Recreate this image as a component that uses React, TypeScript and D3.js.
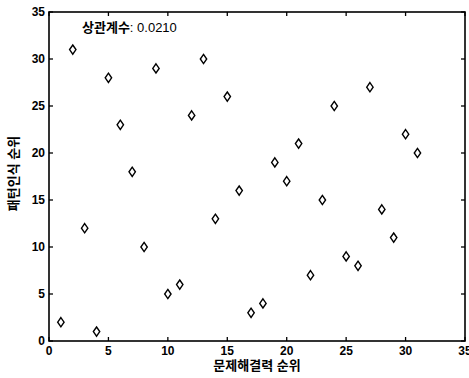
import React from "react";
import * as d3 from "d3";

// Problem-solving rank (x) vs pattern-recognition rank (y)
const problemSolvingRank = [
  1, 2, 3, 4, 5, 6, 7, 8, 9, 10, 11, 12, 13, 14, 15, 16, 17, 18, 19, 20, 21,
  22, 23, 24, 25, 26, 27, 28, 29, 30, 31,
];
const patternRank = [
  2, 31, 12, 1, 28, 23, 18, 10, 29, 5, 6, 24, 30, 13, 26, 16, 3, 4, 19, 17, 21,
  7, 15, 25, 9, 8, 27, 14, 11, 22, 20,
];
const xTicks = [0, 5, 10, 15, 20, 25, 30, 35];
const yTicks = [0, 5, 10, 15, 20, 25, 30, 35];
const xLabel = "문제해결력 순위";
const yLabel = "패턴인식 순위";
const corrLabel = "상관계수";
const corrValue = "0.0210";

const W = 469;
const H = 378;
const M = { left: 49, right: 4, top: 12, bottom: 37 };

export default function App() {
  const x = d3.scaleLinear().domain([0, 35]).range([M.left, W - M.right]);
  const y = d3.scaleLinear().domain([0, 35]).range([H - M.bottom, M.top]);
  const font = "'Liberation Sans', Arial, 'Noto Sans CJK KR', sans-serif";
  const tick = 4;
  const x0 = x(0), x1 = x(35), y0 = y(0), y1 = y(35);

  return (
    <svg
      width={W}
      height={H}
      style={{ position: "absolute", left: 0, top: 0, background: "#fff" }}
      fontFamily={font}
    >
      <rect x={x0} y={y1} width={x1 - x0} height={y0 - y1} fill="none" stroke="#000" strokeWidth={1.6} />
      {xTicks.map((t) => (
        <g key={"x" + t}>
          <line x1={x(t)} x2={x(t)} y1={y0} y2={y0 - tick} stroke="#000" strokeWidth={1.3} />
          <line x1={x(t)} x2={x(t)} y1={y1} y2={y1 + tick} stroke="#000" strokeWidth={1.3} />
          <text x={x(t)} y={y0 + 14} textAnchor="middle" fontSize={12} fontWeight="bold">
            {t}
          </text>
        </g>
      ))}
      {yTicks.map((t) => (
        <g key={"y" + t}>
          <line x1={x0} x2={x0 + tick} y1={y(t)} y2={y(t)} stroke="#000" strokeWidth={1.3} />
          <line x1={x1} x2={x1 - tick} y1={y(t)} y2={y(t)} stroke="#000" strokeWidth={1.3} />
          <text x={x0 - 4} y={y(t) + 4} textAnchor="end" fontSize={12} fontWeight="bold">
            {t}
          </text>
        </g>
      ))}
      {problemSolvingRank.map((xv, i) => {
        const cx = x(xv);
        const cy = y(patternRank[i]);
        const hw = 3.2, hh = 4.6;
        return (
          <path
            key={i}
            d={`M${cx},${cy - hh}L${cx + hw},${cy}L${cx},${cy + hh}L${cx - hw},${cy}Z`}
            fill="none"
            stroke="#000"
            strokeWidth={1.4}
          />
        );
      })}
      <text x={82} y={32} fontSize={13}>
        <tspan fontWeight="bold">{corrLabel}</tspan>
        <tspan>{": " + corrValue}</tspan>
      </text>
      <text x={(x0 + x1) / 2} y={370} textAnchor="middle" fontSize={13} fontWeight="bold">
        {xLabel}
      </text>
      <text
        transform={`translate(18,${(y0 + y1) / 2 - 3}) rotate(-90)`}
        textAnchor="middle"
        fontSize={13}
        fontWeight="bold"
      >
        {yLabel}
      </text>
    </svg>
  );
}
